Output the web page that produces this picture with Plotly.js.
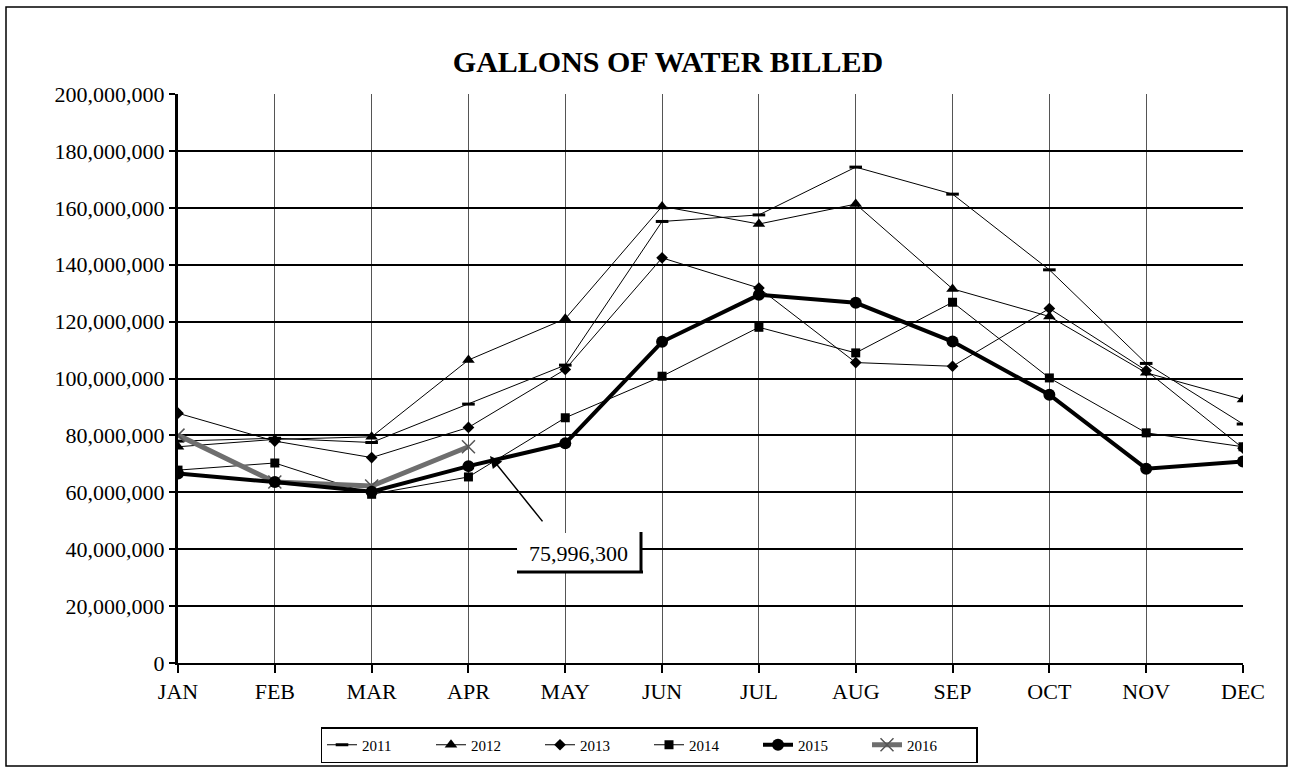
<!DOCTYPE html>
<html>
<head>
<meta charset="utf-8">
<script src="https://cdn.plot.ly/plotly-3.0.1.min.js"></script>
<style>
html,body{margin:0;padding:0;background:#fff;}
#chart{width:1297px;height:776px;}
</style>
</head>
<body>
<div id="chart"></div>
<script>
// Values in millions of gallons
const months = ["JAN","FEB","MAR","APR","MAY","JUN","JUL","AUG","SEP","OCT","NOV","DEC"];
const y2011 = [78, 79, 77.5, 91, 104.7, 155.2, 157.5, 174.3, 164.8, 138.2, 105.3, 84];
const y2012 = [76, 78.6, 79.5, 106.5, 121, 160.5, 154.3, 161.3, 131.5, 121.8, 102, 92.6];
const y2013 = [87.8, 78, 72.2, 82.8, 103.2, 142.4, 131.8, 105.6, 104.3, 124.6, 102.8, 75.5];
const y2014 = [67.8, 70.3, 59.3, 65.4, 86.2, 100.8, 118, 109, 126.8, 100.2, 80.9, 76];
const y2015 = [66.6, 63.6, 60.2, 69.2, 77.2, 112.9, 129.4, 126.6, 113, 94.3, 68.3, 70.8];
const y2016 = [80.1, 63.6, 62.2, 75.9963];
const seriesNames = ["2011","2012","2013","2014","2015","2016"];
const labelText = "75,996,300";

const M = 1e6;
const toG = a => a.map(v => v * M);
const font = "'Liberation Serif', 'Times New Roman', serif";

const traces = [
  {x: months, y: toG(y2011), name: seriesNames[0], legendrank: 1, mode: "lines+markers",
   line: {color: "#000", width: 1},
   marker: {symbol: "line-ew-open", size: 9, color: "#000", line: {color: "#000", width: 3}}},
  {x: months, y: toG(y2012), name: seriesNames[1], legendrank: 2, mode: "lines+markers",
   line: {color: "#000", width: 1},
   marker: {symbol: "triangle-up", size: 11, color: "#000"}},
  {x: months, y: toG(y2013), name: seriesNames[2], legendrank: 3, mode: "lines+markers",
   line: {color: "#000", width: 1},
   marker: {symbol: "diamond", size: 9, color: "#000"}},
  {x: months, y: toG(y2014), name: seriesNames[3], legendrank: 4, mode: "lines+markers",
   line: {color: "#000", width: 1},
   marker: {symbol: "square", size: 9, color: "#000"}},
  {x: months.slice(0, y2016.length), y: toG(y2016), name: seriesNames[5], legendrank: 6, mode: "lines+markers",
   line: {color: "#6e6e6e", width: 5},
   marker: {symbol: "x-thin-open", size: 13, color: "#555", line: {color: "#555", width: 1.5}}},
  {x: months, y: toG(y2015), name: seriesNames[4], legendrank: 5, mode: "lines+markers",
   line: {color: "#000", width: 4},
   marker: {symbol: "circle", size: 12, color: "#000"}}
];

const px = p => (p - 178) / 1065;
const py = p => (663 - p) / 569;

const layout = {
  width: 1297, height: 776,
  margin: {l: 178, r: 54, t: 94, b: 113},
  paper_bgcolor: "#fff", plot_bgcolor: "#fff",
  font: {family: font, color: "#000", size: 22},
  showlegend: true,
  title: {text: "<b>GALLONS OF WATER BILLED</b>", font: {family: font, size: 30, color: "#000"},
          x: 668/1297, xanchor: "center", y: 1 - 61/776, yanchor: "middle"},
  xaxis: {
    type: "category", range: [0, 11], categoryorder: "array", categoryarray: months,
    showgrid: true, gridcolor: "#555", gridwidth: 1,
    showline: true, linecolor: "#000", linewidth: 2,
    ticks: "outside", ticklen: 8, tickwidth: 2, tickcolor: "#000",
    tickfont: {family: font, size: 22, color: "#000"},
    zeroline: false, fixedrange: true
  },
  yaxis: {
    range: [0, 200e6], dtick: 20e6, tickformat: ",d",
    showgrid: true, gridcolor: "#000", gridwidth: 2,
    showline: true, linecolor: "#000", linewidth: 3,
    ticks: "outside", ticklen: 6, tickwidth: 2, tickcolor: "#000",
    tickfont: {family: font, size: 22, color: "#000"},
    zeroline: false, fixedrange: true
  },
  legend: {
    orientation: "h", x: px(649), xanchor: "center", y: py(727), yanchor: "top",
    bordercolor: "#000", borderwidth: 1.5, bgcolor: "#fff",
    font: {family: font, size: 15, color: "#000"},
    entrywidth: 64, entrywidthmode: "pixels",
    traceorder: "normal", itemclick: false
  },
  shapes: [
    {type: "rect", xref: "paper", yref: "paper", x0: px(6), x1: px(1287), y0: py(766), y1: py(7),
     line: {color: "#000", width: 1.5}, fillcolor: "rgba(0,0,0,0)", layer: "below"},
    {type: "rect", xref: "paper", yref: "paper", x0: px(517), x1: px(640), y0: py(571), y1: py(533),
     line: {width: 0}, fillcolor: "#fff", layer: "above"},
    {type: "line", xref: "paper", yref: "paper", x0: px(517), x1: px(643), y0: py(572), y1: py(572),
     line: {color: "#000", width: 3}},
    {type: "line", xref: "paper", yref: "paper", x0: px(641), x1: px(641), y0: py(572), y1: py(532),
     line: {color: "#000", width: 3}}
  ],
  annotations: [
    {xref: "paper", yref: "paper", x: px(490), y: py(456), ax: 57, ay: 71,
     text: " ", showarrow: true, arrowhead: 2, arrowsize: 1.6, arrowwidth: 1.5, arrowcolor: "#000"},
    {xref: "paper", yref: "paper", x: px(578), y: py(553), text: labelText, showarrow: false,
     font: {family: font, size: 22, color: "#000"}, xanchor: "center", yanchor: "middle"}
  ]
};

Plotly.newPlot("chart", traces, layout, {displayModeBar: false, staticPlot: true});
</script>
</body>
</html>
